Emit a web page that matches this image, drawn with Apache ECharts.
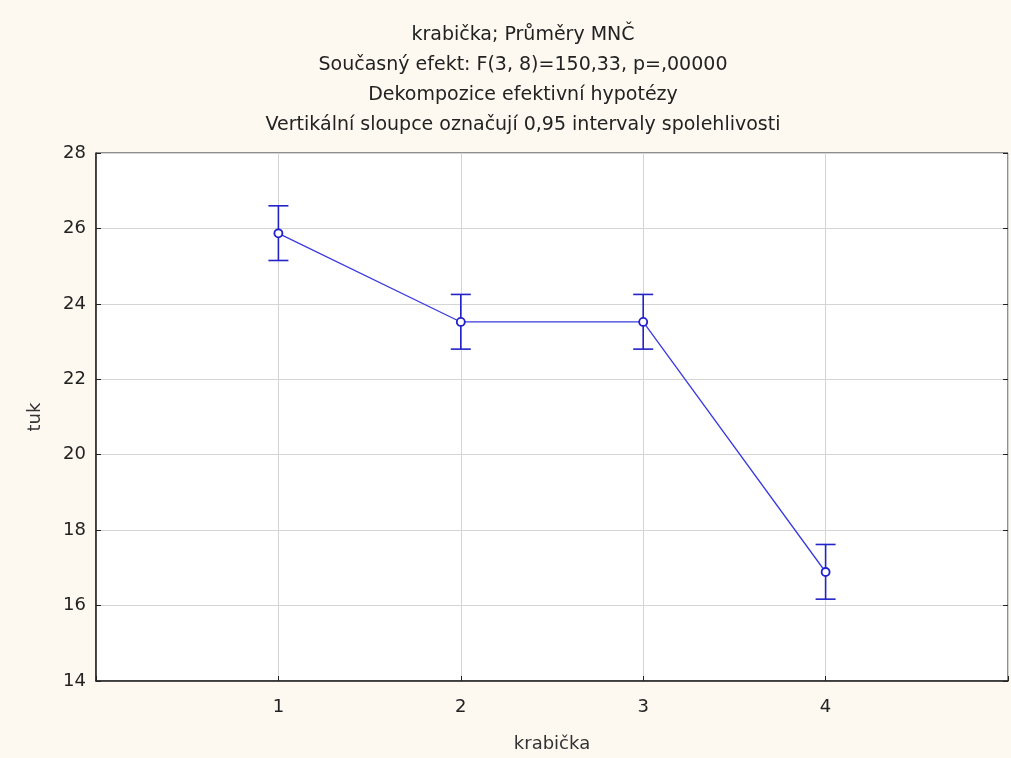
<!DOCTYPE html>
<html>
<head>
<meta charset="utf-8">
<script src="https://cdn.jsdelivr.net/npm/echarts@6/dist/echarts.min.js"></script>
<style>
  html, body { margin: 0; padding: 0; background: #fdf9f1; overflow: hidden; }
  #chart { width: 1011px; height: 758px; }
</style>
</head>
<body>
<div id="chart"></div>
<script>
// Group means of "tuk" for each krabička, with 0.95 confidence limits
const categories = [1, 2, 3, 4];
const means = [25.87, 23.52, 23.52, 16.89];
const lowerCI = [25.15, 22.80, 22.80, 16.17];
const upperCI = [26.60, 24.25, 24.25, 17.62];
const yTicks = [14, 16, 18, 20, 22, 24, 26, 28];

const titleLines = [
  'krabička; Průměry MNČ',
  'Současný efekt: F(3, 8)=150,33, p=,00000',
  'Dekompozice efektivní hypotézy',
  'Vertikální sloupce označují 0,95 intervaly spolehlivosti'
];

const FONT = 'DejaVu Sans, Verdana, sans-serif';
const BLUE = '#3a3ae0';

const meanData = categories.map((c, i) => [c, means[i]]);
const ciData = categories.map((c, i) => [c, lowerCI[i], upperCI[i]]);

const chart = echarts.init(document.getElementById('chart'));
chart.setOption({
  backgroundColor: '#fdf9f1',
  animation: false,
  title: {
    text: titleLines.join('\n'),
    left: 518,
    textAlign: 'center',
    top: 15,
    textStyle: {
      fontFamily: FONT,
      fontSize: 19,
      fontWeight: 'normal',
      color: '#222',
      lineHeight: 30
    }
  },
  grid: {
    left: 96, right: 0, top: 153, bottom: 70,
    show: true,
    backgroundColor: '#ffffff',
    borderColor: '#222',
    borderWidth: 1
  },
  xAxis: {
    type: 'value',
    min: 0, max: 5, interval: 1,
    name: 'krabička',
    nameLocation: 'middle',
    nameGap: 54,
    nameTextStyle: { fontFamily: FONT, fontSize: 18, color: '#333' },
    axisLine: { show: true, lineStyle: { color: '#222', width: 1.5 } },
    axisTick: { show: true, inside: true, length: 5, lineStyle: { color: '#222' } },
    axisLabel: {
      fontFamily: FONT, fontSize: 18, color: '#222', margin: 17,
      formatter: v => categories.includes(v) ? String(v) : ''
    },
    splitLine: { show: true, lineStyle: { color: '#d4d4d4', width: 1 } }
  },
  yAxis: [{
    type: 'value',
    min: yTicks[0], max: yTicks[yTicks.length - 1], interval: 2,
    name: 'tuk',
    nameLocation: 'middle',
    nameGap: 52,
    nameRotate: 90,
    nameTextStyle: { fontFamily: FONT, fontSize: 18, color: '#333' },
    axisLine: { show: true, lineStyle: { color: '#222', width: 1.5 } },
    axisTick: { show: true, inside: true, length: 5, lineStyle: { color: '#222' } },
    axisLabel: { fontFamily: FONT, fontSize: 18, color: '#222', margin: 10 },
    splitLine: { show: true, lineStyle: { color: '#d4d4d4', width: 1 } }
  }, {
    type: 'value',
    position: 'right',
    min: yTicks[0], max: yTicks[yTicks.length - 1], interval: 2,
    axisLine: { show: false },
    axisTick: { show: true, inside: true, length: 5, lineStyle: { color: '#222' } },
    axisLabel: { show: false },
    splitLine: { show: false }
  }],
  series: [
    {
      type: 'line',
      data: meanData,
      symbol: 'circle',
      symbolSize: 8,
      itemStyle: { color: '#ffffff', borderColor: '#2020d0', borderWidth: 1.8 },
      lineStyle: { color: BLUE, width: 1.3 },
      z: 3
    },
    {
      type: 'custom',
      data: ciData,
      z: 2,
      renderItem: function (params, api) {
        const x = api.value(0);
        const lo = api.coord([x, api.value(1)]);
        const hi = api.coord([x, api.value(2)]);
        const cap = 10;
        const style = { stroke: '#2323c8', lineWidth: 1.6, fill: null };
        return {
          type: 'group',
          children: [
            { type: 'line', shape: { x1: lo[0], y1: lo[1], x2: hi[0], y2: hi[1] }, style },
            { type: 'line', shape: { x1: hi[0] - cap, y1: hi[1], x2: hi[0] + cap, y2: hi[1] }, style },
            { type: 'line', shape: { x1: lo[0] - cap, y1: lo[1], x2: lo[0] + cap, y2: lo[1] }, style }
          ]
        };
      }
    }
  ]
});
</script>
</body>
</html>
